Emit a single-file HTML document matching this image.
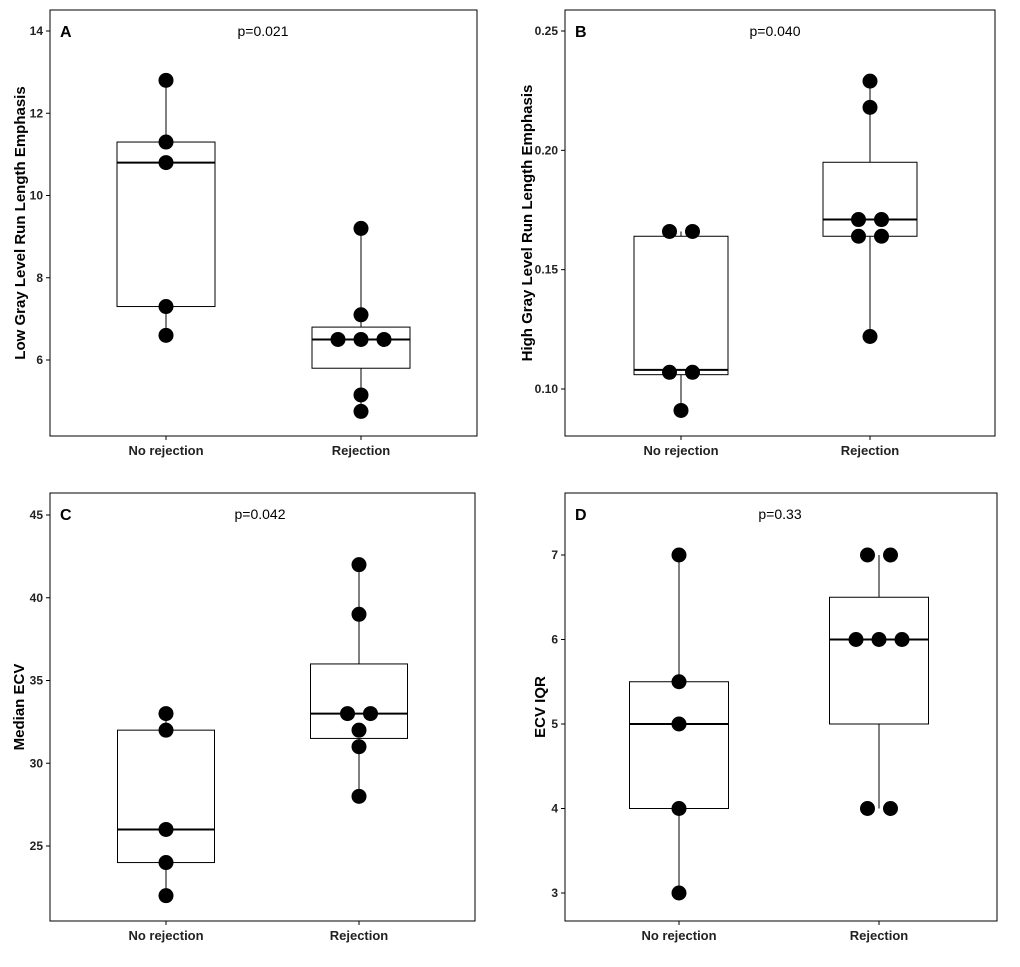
<!DOCTYPE html>
<html><head><meta charset="utf-8"><style>
body{margin:0;background:#fff;}
svg text{font-family:"Liberation Sans",Arial,sans-serif;}
</style></head><body>
<svg id="chart" width="1020" height="962" xmlns="http://www.w3.org/2000/svg"></svg>
<script>
// Panel A
const aTicks=[6,8,10,12,14];
const aNoRej=[12.8,11.3,10.8,7.3,6.6];
const aRej=[9.2,7.1,6.5,6.5,6.5,5.15,4.75];
const aBoxNo=[7.3,10.8,11.3];
const aBoxRej=[5.8,6.5,6.8];
// Panel B
const bTicks=[0.10,0.15,0.20,0.25];
const bNoRej=[0.166,0.166,0.107,0.107,0.091];
const bRej=[0.229,0.218,0.171,0.171,0.164,0.164,0.122];
const bBoxNo=[0.106,0.108,0.164];
const bBoxRej=[0.164,0.171,0.195];
// Panel C
const cTicks=[25,30,35,40,45];
const cNoRej=[33,32,26,24,22];
const cRej=[42,39,33,33,32,31,28];
const cBoxNo=[24,26,32];
const cBoxRej=[31.5,33,36];
// Panel D
const dTicks=[3,4,5,6,7];
const dNoRej=[7,5.5,5,4,3];
const dRej=[7,7,6,6,6,4,4];
const dBoxNo=[4,5,5.5];
const dBoxRej=[5,6,6.5];
const categories=["No rejection","Rejection"];

const NS="http://www.w3.org/2000/svg";
const svg=document.getElementById('chart');
function mk(tag,attrs,parent,text){const e=document.createElementNS(NS,tag);for(const k in attrs)e.setAttribute(k,attrs[k]);if(text!==undefined)e.textContent=text;(parent||svg).appendChild(e);return e;}

function jitter(vals){ // horizontal offsets for tied values
  const out=[];const seen={};
  vals.forEach(v=>{const k=v.toFixed(4);seen[k]=(seen[k]||0)+1;});
  const idx={};
  vals.forEach(v=>{const k=v.toFixed(4);const n=seen[k];idx[k]=(idx[k]||0);const i=idx[k]++;out.push(n===1?0:(i-(n-1)/2)*23);});
  return out;
}

function panel(p){
  const g=mk('g',{},svg);
  
  
  const y=v=>p.y0+(v-p.v0)*(p.y1-p.y0)/(p.v1-p.v0);
  const fr=mk('rect',{x:p.x,y:p.top,width:p.w,height:p.h,fill:'none',stroke:'#000','stroke-width':1},g);
  
  p.ticks.forEach(t=>{
    mk('line',{x1:p.x-4,x2:p.x,y1:y(t),y2:y(t),stroke:'#000'},g);
    const tx=mk('text',{x:p.x-7,y:y(t)+4,'text-anchor':'end','font-size':12,'font-weight':'bold',fill:'#222'},g,p.fmt(t));
    
  });
  const yt=mk('text',{x:0,y:0,transform:`translate(${p.ytX},${p.top+p.h/2}) rotate(-90)`,'text-anchor':'middle','font-size':15,'font-weight':'bold'},g,p.ytitle);
  
  const lt=mk('text',{x:p.x+10,y:p.top+27,'font-size':16,'font-weight':'bold'},g,p.letter);
  
  const pv=mk('text',{x:p.pX,y:p.top+26,'text-anchor':'middle','font-size':14},g,p.ptext);
  
  [0,1].forEach(i=>{
    const cx=p.cx[i],bw=p.bw,box=p.boxes[i],pts=p.pts[i];
    const xl=mk('text',{x:cx,y:p.top+p.h+19,'text-anchor':'middle','font-size':13,'font-weight':'bold',fill:'#222'},g,categories[i]);
    
    mk('line',{x1:cx,x2:cx,y1:p.top+p.h,y2:p.top+p.h+4,stroke:'#000'},g);
    const mx=Math.max(...pts),mn=Math.min(...pts);
    const w1=mk('line',{x1:cx,x2:cx,y1:y(mx),y2:y(box[2]),stroke:'#000'},g);
    
    const w2=mk('line',{x1:cx,x2:cx,y1:y(box[0]),y2:y(mn),stroke:'#000'},g);
    
    const r=mk('rect',{x:cx-bw/2,y:y(box[2]),width:bw,height:y(box[0])-y(box[2]),fill:'#fff',stroke:'#000'},g);
    
    const md=mk('line',{x1:cx-bw/2,x2:cx+bw/2,y1:y(box[1]),y2:y(box[1]),stroke:'#000','stroke-width':2},g);
    
    const jt=jitter(pts);
    pts.forEach((v,k)=>{
      const c=mk('circle',{cx:cx+jt[k],cy:y(v),r:7.5,fill:'#000'},g);
      
      
    });
  });
}
panel({letter:'A',x:50,top:10,w:427,h:426,v0:6,y0:360,v1:14,y1:31,ticks:aTicks,fmt:t=>String(t),ytitle:'Low Gray Level Run Length Emphasis',ytX:25,pX:263,ptext:'p=0.021',cx:[166,361],bw:98,boxes:[aBoxNo,aBoxRej],pts:[aNoRej,aRej]});
panel({letter:'B',x:565,top:10,w:430,h:426,v0:0.10,y0:389,v1:0.25,y1:31,ticks:bTicks,fmt:t=>t.toFixed(2),ytitle:'High Gray Level Run Length Emphasis',ytX:532,pX:775,ptext:'p=0.040',cx:[681,870],bw:94,boxes:[bBoxNo,bBoxRej],pts:[bNoRej,bRej]});
panel({letter:'C',x:50,top:493,w:425,h:428,v0:25,y0:846,v1:45,y1:515,ticks:cTicks,fmt:t=>String(t),ytitle:'Median ECV',ytX:24,pX:260,ptext:'p=0.042',cx:[166,359],bw:97,boxes:[cBoxNo,cBoxRej],pts:[cNoRej,cRej]});
panel({letter:'D',x:565,top:493,w:432,h:428,v0:3,y0:893,v1:7,y1:555,ticks:dTicks,fmt:t=>String(t),ytitle:'ECV IQR',ytX:545,pX:780,ptext:'p=0.33',cx:[679,879],bw:99,boxes:[dBoxNo,dBoxRej],pts:[dNoRej,dRej]});
</script>
</body></html>
